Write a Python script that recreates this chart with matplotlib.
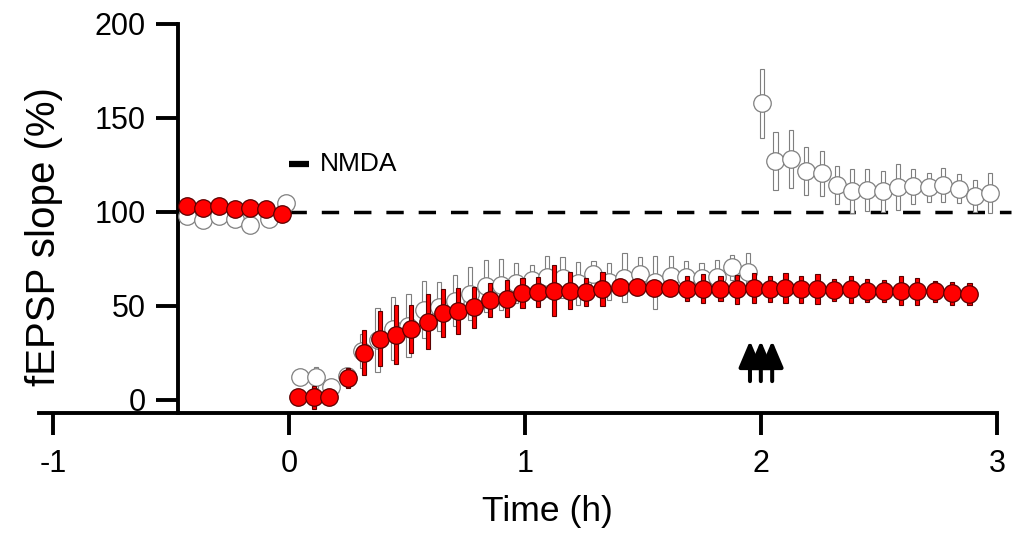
import matplotlib
matplotlib.use("Agg")
import matplotlib.pyplot as plt

plt.rcParams['font.family'] = ['Liberation Sans', 'DejaVu Sans']

# control (white) and treated (red) fEPSP slope, % of baseline
red_t_base = [-0.431, -0.366, -0.298, -0.231, -0.165, -0.097, -0.030]
red_base = [103, 102, 103, 101.5, 102, 101.5, 99]
red_err_base = [2, 2, 2, 2, 2, 2, 2]

red_t_post = [0.037, 0.105, 0.169, 0.251, 0.319, 0.384, 0.452, 0.517, 0.588, 0.653,
              0.717, 0.785, 0.853, 0.924, 0.989, 1.054, 1.124, 1.189, 1.257, 1.328,
              1.404, 1.475, 1.545, 1.616, 1.686, 1.754, 1.828, 1.898, 1.969, 2.037,
              2.103, 2.168, 2.239, 2.309, 2.380, 2.450, 2.521, 2.592, 2.662, 2.736,
              2.809, 2.883]
red_post = [1.4, 1.4, 1.4, 11.7, 25.2, 32.6, 34.7, 37.6, 41.5, 46.1,
            47.5, 49.3, 53.2, 53.9, 56.7, 57.4, 58.2, 58.2, 57.4, 59.2,
            60.3, 60.0, 59.6, 59.5, 59.2, 59.2, 59.2, 58.9, 59.6, 59.2,
            59.6, 58.9, 58.9, 58.5, 58.9, 58.2, 57.8, 58.2, 57.8, 57.8,
            56.7, 56.4]
red_err_post = [2, 6, 2, 5.5, 12, 14.8, 15.6, 12.8, 14.6, 12.8,
                12.2, 11, 9, 9.7, 8, 7.8, 13.7, 9.9, 7.6, 9,
                3, 3, 3, 3, 6.6, 7.8, 6.7, 7.6, 8, 7,
                8.1, 7.1, 8, 5.9, 7.1, 6.2, 5.9, 7.6, 7.3, 5.5,
                6, 6]

white_t_base = [-0.433, -0.366, -0.298, -0.231, -0.165, -0.086, -0.013]
white_base = [98, 95.8, 97.6, 96.5, 93, 96.2, 105]
white_err_base = [2, 2, 2, 2, 2, 2, 2]

white_t_post = [0.048, 0.113, 0.179, 0.244, 0.309, 0.375, 0.440, 0.506, 0.571, 0.636,
                0.702, 0.767, 0.833, 0.898, 0.963, 1.029, 1.094, 1.159, 1.225, 1.290,
                1.356, 1.421, 1.486, 1.552, 1.617, 1.682, 1.748, 1.813, 1.878, 1.944,
                2.004, 2.061, 2.128, 2.191, 2.258, 2.323, 2.386, 2.450, 2.516, 2.581,
                2.645, 2.711, 2.772, 2.840, 2.906, 2.970]
white_post = [12.4, 12, 6.7, 13, 26, 32, 38, 39.5, 48, 49.6,
              52.8, 56.5, 60.7, 61.3, 62, 64, 65.5, 65, 62, 67,
              63, 65, 67, 62.5, 66, 65.5, 65, 65.5, 70.5, 68,
              157.8, 127.3, 128.4, 121.6, 120.6, 114.2, 111, 111.7, 111, 113.1,
              113.8, 113.1, 114.5, 112.4, 108.5, 110]
white_err_post = [3, 5.6, 3, 3, 9, 17, 16.7, 16.6, 15.3, 13,
                  13.7, 14, 13.7, 13.5, 10.6, 8, 11, 11, 11.5, 7,
                  10, 13, 9, 14, 10.5, 8.5, 8, 9, 6.5, 10,
                  18.5, 15.5, 15.4, 12.8, 12, 10, 11.7, 11.3, 11, 12.2,
                  9.3, 7.8, 9, 7.6, 8.7, 10.5]

hfs_times = [1.953, 1.999, 2.047]
nmda_start, nmda_end, nmda_y = 0.0, 0.085, 125.5

fig = plt.figure(figsize=(10.14, 5.33), dpi=100)
ax = fig.add_axes([0.0383, 0.2246, 0.959, 0.7339])
ax.set_xlim(-1.06, 3.06)
ax.set_ylim(-7.1, 201)


def draw_series(t, y, err, face, edge, z):
    lo = [v - e for v, e in zip(y, err)]
    hi = [2 * e for e in err]
    ax.bar(t, hi, bottom=lo, width=0.018, color=face, edgecolor=edge,
           linewidth=0.8, zorder=z, clip_on=False)
    ax.plot(t, y, 'o', ms=12.6, mfc=face, mec=edge, mew=0.9,
            linestyle='none', zorder=z + 0.5, clip_on=False)


draw_series(white_t_base + white_t_post, white_base + white_post,
            white_err_base + white_err_post, 'white', '#7f7f7f', 3)
draw_series(red_t_base + red_t_post, red_base + red_post,
            red_err_base + red_err_post, '#ff0000', '#5a0000', 5)

# baseline reference
ax.plot([0.0, 3.06], [100, 100], color='k', lw=2.5,
        linestyle=(0, (5.0, 4.3)), zorder=2, clip_on=False)

# NMDA application
ax.plot([nmda_start, nmda_end], [nmda_y, nmda_y], color='k', lw=4.5,
        solid_capstyle='butt', zorder=4)
ax.text(0.131, nmda_y, 'NMDA', fontsize=19, va='center', ha='left')

# HFS arrows
for t in hfs_times:
    ax.annotate('', xy=(t, 31.5), xytext=(t, 10),
                arrowprops=dict(arrowstyle='-|>,head_length=0.8,head_width=0.34',
                                lw=2.9, color='k', mutation_scale=20,
                                shrinkA=0, shrinkB=0), zorder=7)

for s in ['top', 'right']:
    ax.spines[s].set_visible(False)
ax.spines['left'].set_position(('data', -0.472))
ax.spines['left'].set_bounds(-7.1, 200)
ax.spines['bottom'].set_bounds(-1.06, 3)
for s in ['left', 'bottom']:
    ax.spines[s].set_linewidth(2.8)

ax.set_xticks([-1, 0, 1, 2, 3])
ax.set_xticklabels(['-1', '0', '1', '2', '3'])
ax.set_yticks([0, 50, 100, 150, 200])
ax.tick_params(axis='both', direction='out', length=15.8, width=2.8,
               labelsize=22)
ax.tick_params(axis='x', pad=10)
ax.tick_params(axis='y', pad=7)

ax.set_xlabel('Time (h)', fontsize=25.5)
ax.xaxis.set_label_coords(0.523, -0.21)
ax.set_ylabel('fEPSP slope (%)', fontsize=29)
ax.yaxis.set_label_coords(0.025, 0.453)

fig.savefig('out.png', dpi=100)
